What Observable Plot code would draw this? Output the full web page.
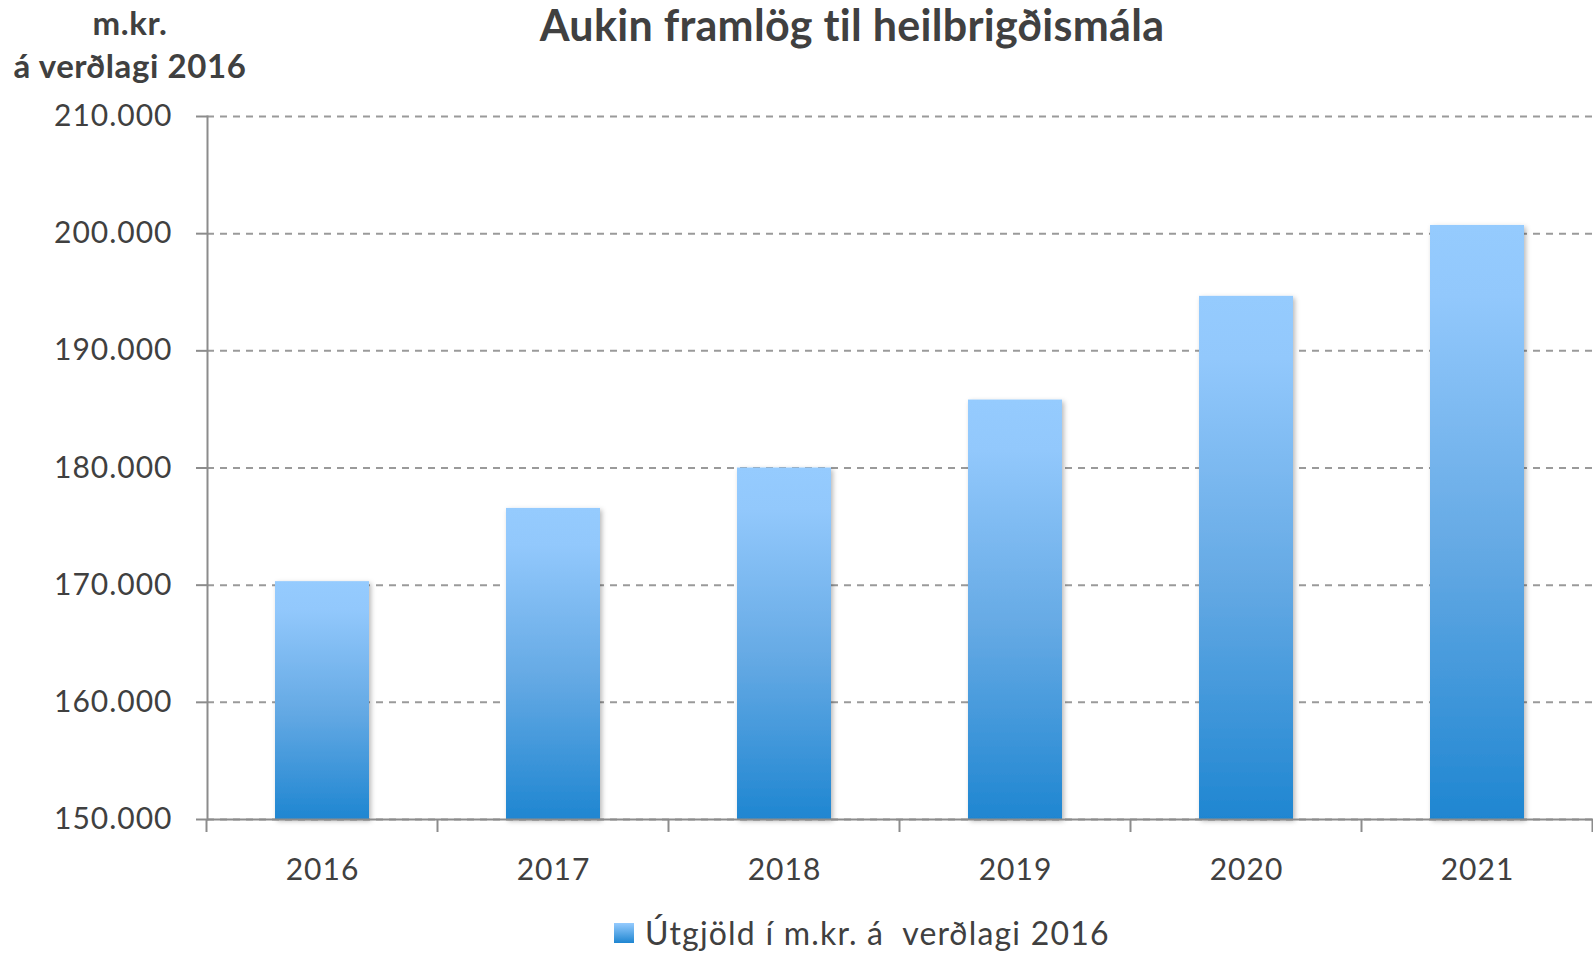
<!DOCTYPE html>
<html>
<head>
<meta charset="utf-8">
<script src="https://cdn.jsdelivr.net/npm/d3@7"></script>
<script src="https://cdn.jsdelivr.net/npm/@observablehq/plot@0.6"></script>
<style>
  html, body { margin: 0; padding: 0; background: #fff; }
  #wrap { position: relative; width: 1593px; height: 956px; font-family: Lato, "Open Sans", sans-serif; color: #404040; overflow: hidden; }
  #title { position: absolute; left: 852px; top: 3px; transform: translateX(-50%); font-size: 43px; font-weight: 700; line-height: 1; letter-spacing: 0.3px; white-space: nowrap; }
  #ylabel { position: absolute; left: 130px; top: 1px; transform: translateX(-50%); font-size: 33px; font-weight: 700; line-height: 43px; letter-spacing: 0.6px; text-align: center; white-space: nowrap; }
  #legend { position: absolute; left: 614px; top: 917px; display: flex; align-items: center; font-size: 32px; line-height: 1; letter-spacing: 1.2px; white-space: nowrap; }
  #legend .sw { width: 20px; height: 20px; margin-right: 11px; background: linear-gradient(#95CBFE, #1F86D1); }
  #chart { position: absolute; left: 0; top: 0; }
</style>
</head>
<body>
<div id="wrap">
  <div id="chart"></div>
  <div id="title"></div>
  <div id="ylabel"></div>
  <div id="legend"><span class="sw"></span><span id="legendText"></span></div>
</div>
<script>
const titleText = "Aukin framlög til heilbrigðismála";
const yLabelLines = ["m.kr.", "á verðlagi 2016"];
const legendLabel = "Útgjöld í m.kr. á  verðlagi 2016";
const years = ["2016", "2017", "2018", "2019", "2020", "2021"];
const values = [170300, 176550, 180000, 185800, 194650, 200700];
const yTicks = [150000, 160000, 170000, 180000, 190000, 200000, 210000];

document.getElementById("title").textContent = titleText;
document.getElementById("ylabel").innerHTML = yLabelLines.map(s => `<div>${s}</div>`).join("");
document.getElementById("legendText").textContent = legendLabel;
document.getElementById("legendText").style.whiteSpace = "pre";

const data = years.map((y, i) => ({year: y, value: values[i]}));
const fmt = d => d3.format(",")(d).replace(/,/g, ".");
const axisColor = "#8c8c8c";

const plot = Plot.plot({
  width: 1593,
  height: 890,
  marginLeft: 207,
  marginRight: 0,
  marginTop: 116,
  marginBottom: 71,
  style: {fontFamily: "Lato, 'Open Sans', sans-serif", fontSize: "30px", letterSpacing: "1px", color: "#404040", background: "white", overflow: "visible"},
  x: {domain: years, paddingInner: 0.593, paddingOuter: 0.2965, label: null},
  y: {domain: [150000, 210000], label: null},
  marks: [
    Plot.gridY(yTicks, {stroke: "#9a9a9a", strokeOpacity: 1, strokeWidth: 2, strokeDasharray: "7,6"}),
    Plot.barY(data, {x: "year", y1: 150000, y2: "value", fill: "url(#barGrad)"}),
    Plot.ruleY([150000], {stroke: axisColor, strokeWidth: 2}),
    Plot.frame({anchor: "left", stroke: axisColor, strokeWidth: 2}),
    Plot.axisY(yTicks, {tickSize: 11, tickPadding: 24, tickFormat: fmt, stroke: axisColor, strokeWidth: 2, fill: "#404040", fontSize: 30}),
    Plot.axisX({tickSize: 0, tickPadding: 39, fill: "#404040", fontSize: 30})
  ]
});

const svg = d3.select(plot);
const defs = svg.insert("defs", ":first-child");
const grad = defs.append("linearGradient").attr("id", "barGrad")
  .attr("x1", 0).attr("y1", 0).attr("x2", 0).attr("y2", 1);
[[0, "#95CBFE"], [0.12, "#92C8FC"], [0.55, "#64A9E4"], [1, "#1F86D1"]].forEach(([o, c]) =>
  grad.append("stop").attr("offset", o).attr("stop-color", c));
const f = defs.append("filter").attr("id", "shadow").attr("x", "-10%").attr("y", "-10%").attr("width", "130%").attr("height", "130%");
f.append("feDropShadow").attr("dx", 2).attr("dy", 2).attr("stdDeviation", 2.5)
  .attr("flood-color", "#000").attr("flood-opacity", 0.28);
svg.selectAll("g[aria-label=bar] rect").attr("filter", "url(#shadow)");

// category-boundary ticks on the x axis, placed from Plot's own band scale
const sx = plot.scale("x");
const sy = plot.scale("y");
const step = sx.step, bw = sx.bandwidth;
const y0 = sy.apply(150000);
const bounds = years.map(y => sx.apply(y) - (step - bw) / 2);
bounds.push(sx.apply(years[years.length - 1]) + bw + (step - bw) / 2);
svg.append("g").selectAll("line").data(bounds).join("line")
  .attr("x1", d => d).attr("x2", d => d)
  .attr("y1", y0).attr("y2", y0 + 13)
  .attr("stroke", axisColor).attr("stroke-width", 2);

document.getElementById("chart").appendChild(plot);
</script>
</body>
</html>
